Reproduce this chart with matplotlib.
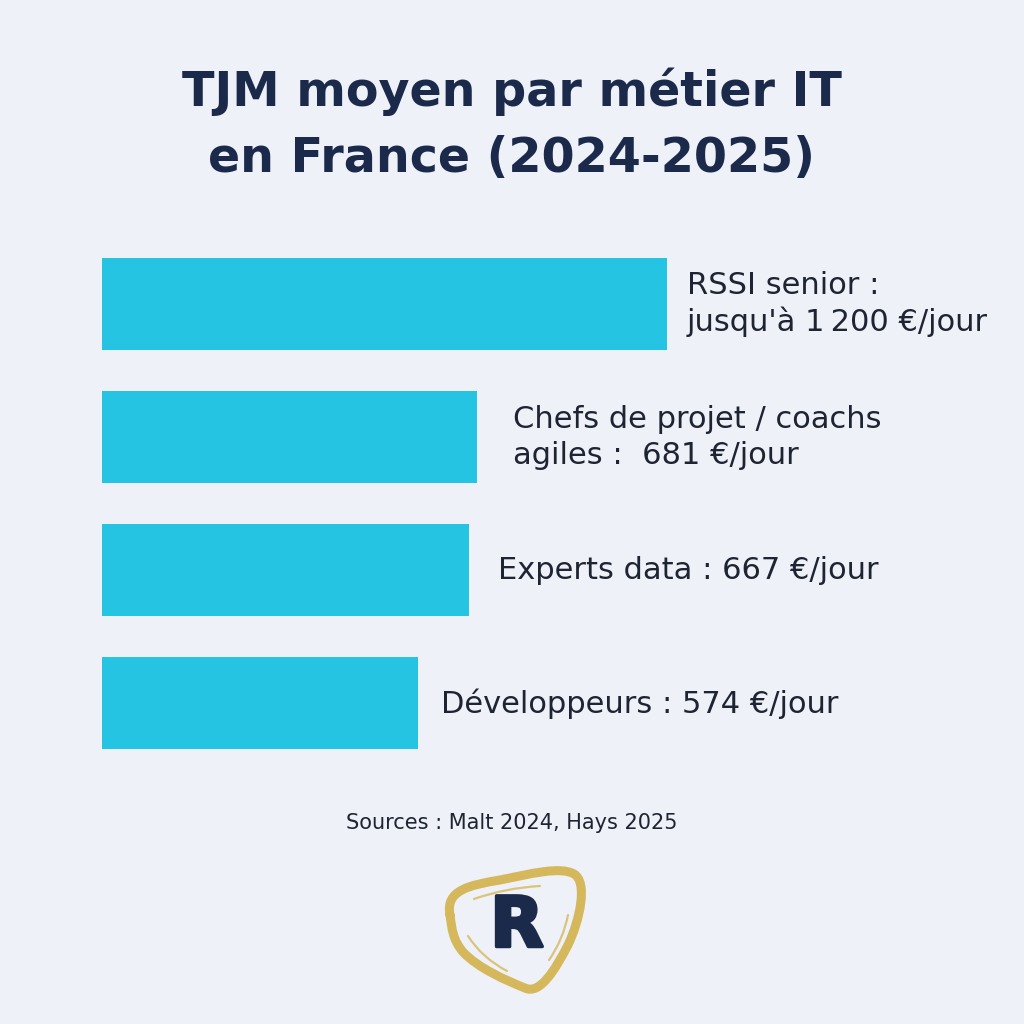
import matplotlib
matplotlib.use("Agg")
import matplotlib.pyplot as plt
from matplotlib.path import Path
from matplotlib.patches import PathPatch
import matplotlib.patheffects as pe

# ---- data ----
categories = ["RSSI senior", "Chefs de projet / coachs agiles", "Experts data", "Développeurs"]
tjm_values = [1200, 681, 667, 574]          # €/jour as labelled
bar_lengths = [1026, 681, 667, 574]         # drawn bar lengths
bar_labels = [
    "RSSI senior :\njusqu'à 1\u202f200 €/jour",
    "Chefs de projet / coachs\nagiles :  681 €/jour",
    "Experts data : 667 €/jour",
    "Développeurs : 574 €/jour",
]
title = "TJM moyen par métier IT\nen France (2024-2025)"
source = "Sources : Malt 2024, Hays 2025"

BG = "#EEF1F7"
BAR = "#26C4E3"
NAVY = "#1B2A4A"
TXT = "#1F2432"
GOLD = "#D6B85C"
FONT = "DejaVu Sans"

W = H = 1024
fig = plt.figure(figsize=(10.24, 10.24), dpi=100, facecolor=BG)

# bar axes (placed so 1 unit = 0.5505 px)
px_per_unit = 316 / 574
left_px, top_px, bot_px = 102, 237.5, 770
ax = fig.add_axes([left_px / W, 1 - bot_px / H, (W - left_px) / W, (bot_px - top_px) / H])
ax.set_facecolor("none")
ax.set_xlim(0, (W - left_px) / px_per_unit)
ax.set_ylim(len(categories) - 0.5, -0.5)
ys = list(range(len(categories)))
ax.barh(ys, bar_lengths, height=92 / 133, color=BAR, edgecolor="none")
offsets_px = [20, 36, 29, 23]
for y, L, lab, off in zip(ys, bar_lengths, bar_labels, offsets_px):
    ax.annotate(lab, xy=(L, y), xytext=(off * 72 / 100, 0), textcoords="offset points",
                ha="left", va="center", fontsize=22, color=TXT, family=FONT,
                linespacing=1.3)
ax.axis("off")

# overlay for title, source and logo (pixel coords)
ov = fig.add_axes([0, 0, 1, 1], zorder=-1)
ov.set_xlim(0, W)
ov.set_ylim(H, 0)
ov.axis("off")
ov.set_facecolor("none")

fig.text(0.5, 1 - 125 / H, title, ha="center", va="center", fontsize=34.3,
         fontweight="bold", color=NAVY, family=FONT, linespacing=1.5)
fig.text(0.5, 1 - 823 / H, source, ha="center", va="center", fontsize=15,
         color=TXT, family=FONT)

# logo: gold swoosh ring around navy R
C4 = Path.CURVE4
ring = [(450, 915),
        (445, 890), (470, 885), (500, 880),
        (530, 874), (560, 866), (574, 874),
        (588, 882), (580, 920), (568, 945),
        (555, 970), (540, 995), (525, 988),
        (505, 980), (478, 968), (463, 952),
        (453, 940), (452, 930), (450, 915)]
ring_codes = [Path.MOVETO] + [C4] * 18
ov.add_patch(PathPatch(Path(ring, ring_codes), facecolor="none", edgecolor=GOLD, lw=6.5,
                       capstyle="round", joinstyle="round"))
accents = [
    [(474, 899), (505, 888), (540, 886)],
    [(468, 936), (482, 958), (507, 971)],
    [(568, 915), (563, 940), (549, 960)],
]
for a in accents:
    ov.add_patch(PathPatch(Path(a, [Path.MOVETO, Path.CURVE3, Path.CURVE3]),
                           facecolor="none", edgecolor=GOLD, lw=1.6, capstyle="round",
                           alpha=0.8))
ov.text(517, 927, "R", ha="center", va="center", fontsize=50, fontweight="bold",
        color=NAVY, family=FONT,
        path_effects=[pe.withStroke(linewidth=2.5, foreground=NAVY)])

fig.savefig("out.png", dpi=100, facecolor=BG)
